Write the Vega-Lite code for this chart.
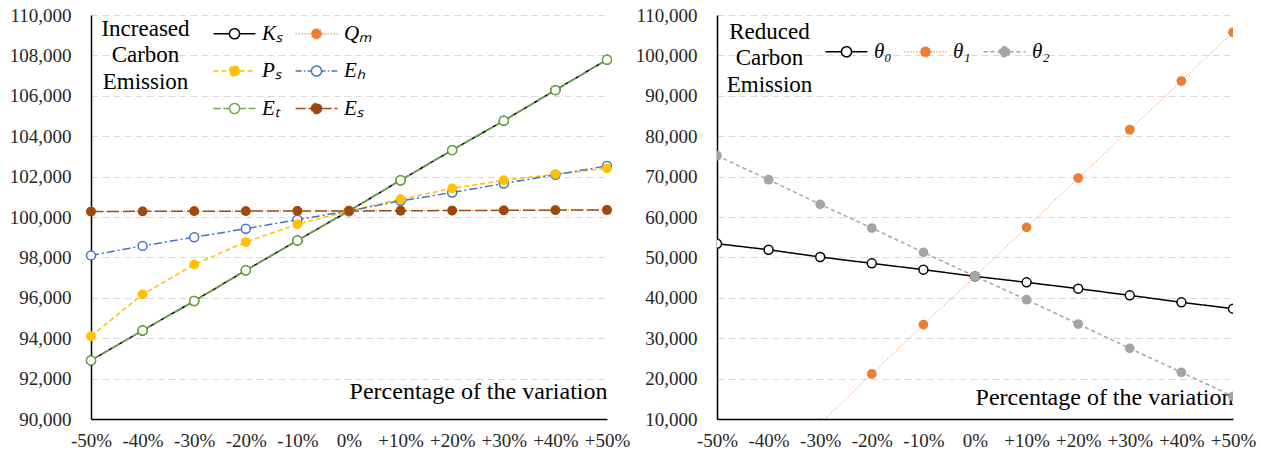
{
  "$schema": "https://vega.github.io/schema/vega-lite/v6.json",
  "background": "white",
  "padding": {"left": 9, "top": 6, "right": 3, "bottom": 3},
  "spacing": 5,
  "datasets": {
    "left": [
      {"pct": -50, "series": "Kₛ", "value": 92900}, {"pct": -40, "series": "Kₛ", "value": 94380}, {"pct": -30, "series": "Kₛ", "value": 95840}, {"pct": -20, "series": "Kₛ", "value": 97360}, {"pct": -10, "series": "Kₛ", "value": 98840}, {"pct": 0, "series": "Kₛ", "value": 100300}, {"pct": 10, "series": "Kₛ", "value": 101820}, {"pct": 20, "series": "Kₛ", "value": 103310}, {"pct": 30, "series": "Kₛ", "value": 104770}, {"pct": 40, "series": "Kₛ", "value": 106280}, {"pct": 50, "series": "Kₛ", "value": 107790},
      {"pct": -50, "series": "Qₘ", "value": 100270}, {"pct": -40, "series": "Qₘ", "value": 100280}, {"pct": -30, "series": "Qₘ", "value": 100290}, {"pct": -20, "series": "Qₘ", "value": 100290}, {"pct": -10, "series": "Qₘ", "value": 100300}, {"pct": 0, "series": "Qₘ", "value": 100300}, {"pct": 10, "series": "Qₘ", "value": 100310}, {"pct": 20, "series": "Qₘ", "value": 100320}, {"pct": 30, "series": "Qₘ", "value": 100330}, {"pct": 40, "series": "Qₘ", "value": 100340}, {"pct": 50, "series": "Qₘ", "value": 100350},
      {"pct": -50, "series": "Pₛ", "value": 94100}, {"pct": -40, "series": "Pₛ", "value": 96170}, {"pct": -30, "series": "Pₛ", "value": 97650}, {"pct": -20, "series": "Pₛ", "value": 98760}, {"pct": -10, "series": "Pₛ", "value": 99640}, {"pct": 0, "series": "Pₛ", "value": 100300}, {"pct": 10, "series": "Pₛ", "value": 100880}, {"pct": 20, "series": "Pₛ", "value": 101420}, {"pct": 30, "series": "Pₛ", "value": 101820}, {"pct": 40, "series": "Pₛ", "value": 102120}, {"pct": 50, "series": "Pₛ", "value": 102410},
      {"pct": -50, "series": "Eₕ", "value": 98100}, {"pct": -40, "series": "Eₕ", "value": 98570}, {"pct": -30, "series": "Eₕ", "value": 99000}, {"pct": -20, "series": "Eₕ", "value": 99420}, {"pct": -10, "series": "Eₕ", "value": 99870}, {"pct": 0, "series": "Eₕ", "value": 100300}, {"pct": 10, "series": "Eₕ", "value": 100800}, {"pct": 20, "series": "Eₕ", "value": 101210}, {"pct": 30, "series": "Eₕ", "value": 101660}, {"pct": 40, "series": "Eₕ", "value": 102090}, {"pct": 50, "series": "Eₕ", "value": 102530},
      {"pct": -50, "series": "Eₜ", "value": 92900}, {"pct": -40, "series": "Eₜ", "value": 94380}, {"pct": -30, "series": "Eₜ", "value": 95840}, {"pct": -20, "series": "Eₜ", "value": 97360}, {"pct": -10, "series": "Eₜ", "value": 98840}, {"pct": 0, "series": "Eₜ", "value": 100300}, {"pct": 10, "series": "Eₜ", "value": 101820}, {"pct": 20, "series": "Eₜ", "value": 103310}, {"pct": 30, "series": "Eₜ", "value": 104770}, {"pct": 40, "series": "Eₜ", "value": 106280}, {"pct": 50, "series": "Eₜ", "value": 107790},
      {"pct": -50, "series": "Eₛ", "value": 100270}, {"pct": -40, "series": "Eₛ", "value": 100280}, {"pct": -30, "series": "Eₛ", "value": 100290}, {"pct": -20, "series": "Eₛ", "value": 100290}, {"pct": -10, "series": "Eₛ", "value": 100300}, {"pct": 0, "series": "Eₛ", "value": 100300}, {"pct": 10, "series": "Eₛ", "value": 100310}, {"pct": 20, "series": "Eₛ", "value": 100320}, {"pct": 30, "series": "Eₛ", "value": 100330}, {"pct": 40, "series": "Eₛ", "value": 100340}, {"pct": 50, "series": "Eₛ", "value": 100350}
    ],
    "right": [
      {"pct": -30, "series": "θ₁", "value": 8900}, {"pct": -20, "series": "θ₁", "value": 21140}, {"pct": -10, "series": "θ₁", "value": 33350}, {"pct": 0, "series": "θ₁", "value": 45310}, {"pct": 10, "series": "θ₁", "value": 57440}, {"pct": 20, "series": "θ₁", "value": 69650}, {"pct": 30, "series": "θ₁", "value": 81610}, {"pct": 40, "series": "θ₁", "value": 93660}, {"pct": 50, "series": "θ₁", "value": 105700},
      {"pct": -50, "series": "θ₀", "value": 53390}, {"pct": -40, "series": "θ₀", "value": 51900}, {"pct": -30, "series": "θ₀", "value": 50100}, {"pct": -20, "series": "θ₀", "value": 48530}, {"pct": -10, "series": "θ₀", "value": 46960}, {"pct": 0, "series": "θ₀", "value": 45310}, {"pct": 10, "series": "θ₀", "value": 43830}, {"pct": 20, "series": "θ₀", "value": 42260}, {"pct": 30, "series": "θ₀", "value": 40610}, {"pct": 40, "series": "θ₀", "value": 38880}, {"pct": 50, "series": "θ₀", "value": 37310},
      {"pct": -50, "series": "θ₂", "value": 75170}, {"pct": -40, "series": "θ₂", "value": 69230}, {"pct": -30, "series": "θ₂", "value": 63130}, {"pct": -20, "series": "θ₂", "value": 57270}, {"pct": -10, "series": "θ₂", "value": 51250}, {"pct": 0, "series": "θ₂", "value": 45310}, {"pct": 10, "series": "θ₂", "value": 39530}, {"pct": 20, "series": "θ₂", "value": 33510}, {"pct": 30, "series": "θ₂", "value": 27490}, {"pct": 40, "series": "θ₂", "value": 21550}, {"pct": 50, "series": "θ₂", "value": 15610}
    ]
  },
  "config": {
    "view": {"stroke": null},
    "font": "Liberation Serif",
    "axis": {
      "labelFont": "Liberation Serif", "titleFont": "Liberation Serif",
      "labelFontSize": 19, "labelColor": "#262626",
      "titleFontWeight": "normal", "titleColor": "#000000",
      "ticks": false, "tickSize": 0,
      "domainColor": "#000000", "domainWidth": 1.5
    },
    "legend": {
      "padding": 0, "title": null,
      "labelFont": "Liberation Serif", "labelFontSize": 21, "labelFontStyle": "italic", "labelColor": "#000000",
      "symbolSize": 1400, "symbolStrokeWidth": 1.5, "rowPadding": 7.5, "labelOffset": 8
    }
  },
  "resolve": {
    "scale": {"x": "independent", "y": "independent", "color": "independent", "strokeDash": "independent"},
    "legend": {"color": "independent"}
  },
  "hconcat": [
    {
      "width": 516, "height": 404,
      "data": {"name": "left"},
      "encoding": {
        "x": {"field": "pct", "type": "quantitative",
          "scale": {"domain": [-50, 50], "nice": false, "zero": false},
          "axis": {"values": [-50, -40, -30, -20, -10, 0, 10, 20, 30, 40, 50], "labelExpr": "(datum.value > 0 ? '+' : '') + datum.value + '%'", "labelOverlap": false, "labelFlush": false, "grid": false, "labelPadding": 12,
            "title": "Percentage of the variation", "titleFontSize": 24, "titleAnchor": "end", "titleY": -21, "titleBaseline": "alphabetic"}},
        "y": {"field": "value", "type": "quantitative",
          "scale": {"domain": [90000, 110000], "nice": false, "zero": false},
          "axis": {"values": [90000, 92000, 94000, 96000, 98000, 100000, 102000, 104000, 106000, 108000, 110000], "format": ",d", "labelPadding": 20,
            "grid": true, "gridColor": "#d9d9d9", "gridDash": [7, 4], "gridWidth": 1,
            "title": ["Increased", "Carbon", "Emission"], "titleAngle": 0, "titleX": 54, "titleY": 20, "titleAlign": "center", "titleBaseline": "alphabetic", "titleFontSize": 23, "titleLineHeight": 26.5}},
        "color": {"field": "series", "type": "nominal", "scale": {"domain": ["Kₛ", "Qₘ", "Pₛ", "Eₕ", "Eₜ", "Eₛ"], "range": ["#000000", "#ED7D31", "#FFC000", "#4472C4", "#70AD47", "#9E480E"]},
          "legend": {"orient": "none", "legendX": 124, "legendY": -1, "columns": 2, "columnPadding": 8, "direction": "horizontal",
            "encode": {"symbols": {"update": {
              "shape": {"signal": "datum.value === 'Eₜ' ? 'M-1.12,0L-0.74,0M-0.6,0L-0.27,0M0.27,0L0.6,0M0.74,0L1.12,0M0.27,0A0.27,0.27,0,1,1,-0.27,0A0.27,0.27,0,1,1,0.27,0Z' : datum.value === 'Eₕ' ? 'M-1.12,0L-0.8,0M-0.68,0L-0.6,0M-0.48,0L-0.27,0M0.27,0L0.48,0M0.6,0L0.68,0M0.8,0L1.12,0M0.27,0A0.27,0.27,0,1,1,-0.27,0A0.27,0.27,0,1,1,0.27,0Z' : 'M-1.12,0L-0.27,0M0.27,0L1.12,0M0.27,0A0.27,0.27,0,1,1,-0.27,0A0.27,0.27,0,1,1,0.27,0Z'"},
              "fillOpacity": {"signal": "indexof(['Kₛ', 'Eₕ', 'Eₜ'], datum.value) >= 0 ? 0 : 1"},
              "strokeDash": {"signal": "datum.value === 'Qₘ' ? [1, 2] : datum.value === 'Pₛ' ? [5, 3] : datum.value === 'Eₛ' ? [10, 3] : [1, 0]"},
              "strokeWidth": {"value": 1.5},
              "opacity": {"value": 1}
            }}}}}
      },
      "layer": [
        {
          "transform": [{"filter": "datum.series === 'Qₘ'"}],
          "mark": {"type": "line", "strokeWidth": 1},
          "encoding": {
            "strokeDash": {"field": "series", "type": "nominal", "scale": {"domain": ["Eₛ", "Eₜ", "Eₕ", "Pₛ", "Qₘ", "Kₛ"], "range": [[12, 4], [9, 3], [8, 3, 2, 3], [5, 3], [1, 2], [1, 0]]}, "legend": null}
          }
        },
        {
          "transform": [{"filter": "datum.series !== 'Qₘ'"}],
          "mark": {"type": "line", "strokeWidth": 1.5},
          "encoding": {
            "strokeDash": {"field": "series", "type": "nominal", "legend": null}
          }
        },
        {
          "transform": [{"filter": "indexof(['Kₛ', 'Eₕ', 'Eₜ'], datum.series) >= 0"}],
          "mark": {"type": "point", "filled": false, "fill": "#ffffff", "size": 80, "strokeWidth": 1.5, "opacity": 1}
        },
        {
          "transform": [{"filter": "indexof(['Kₛ', 'Eₕ', 'Eₜ'], datum.series) < 0"}],
          "mark": {"type": "point", "filled": true, "size": 95, "opacity": 1}
        }
      ]
    },
    {
      "width": 516, "height": 404,
      "data": {"name": "right"},
      "encoding": {
        "x": {"field": "pct", "type": "quantitative",
          "scale": {"domain": [-50, 50], "nice": false, "zero": false},
          "axis": {"values": [-50, -40, -30, -20, -10, 0, 10, 20, 30, 40, 50], "labelExpr": "(datum.value > 0 ? '+' : '') + datum.value + '%'", "labelOverlap": false, "labelFlush": false, "grid": false, "labelPadding": 12,
            "title": "Percentage of the variation", "titleFontSize": 24, "titleAnchor": "end", "titleY": -15, "titleBaseline": "alphabetic"}},
        "y": {"field": "value", "type": "quantitative",
          "scale": {"domain": [10000, 110000], "nice": false, "zero": false},
          "axis": {"values": [10000, 20000, 30000, 40000, 50000, 60000, 70000, 80000, 90000, 100000, 110000], "format": ",d", "labelPadding": 20,
            "grid": true, "gridColor": "#d9d9d9", "gridDash": [7, 4], "gridWidth": 1,
            "title": ["Reduced", "Carbon", "Emission"], "titleAngle": 0, "titleX": 52, "titleY": 23, "titleAlign": "center", "titleBaseline": "alphabetic", "titleFontSize": 23, "titleLineHeight": 26.5}},
        "color": {"field": "series", "type": "nominal", "scale": {"domain": ["θ₀", "θ₁", "θ₂"], "range": ["#000000", "#ED7D31", "#A5A5A5"]},
          "legend": {"orient": "none", "legendX": 110, "legendY": 17, "columns": 3, "columnPadding": 9, "direction": "horizontal",
            "encode": {"symbols": {"update": {
              "shape": {"value": "M-1.12,0L-0.27,0M0.27,0L1.12,0M0.27,0A0.27,0.27,0,1,1,-0.27,0A0.27,0.27,0,1,1,0.27,0Z"},
              "fillOpacity": {"signal": "datum.value === 'θ₀' ? 0 : 1"},
              "strokeDash": {"signal": "datum.value === 'θ₁' ? [1, 2] : datum.value === 'θ₂' ? [4, 3] : [1, 0]"},
              "strokeWidth": {"value": 1.5},
              "opacity": {"value": 1}
            }}}}}
      },
      "layer": [
        {
          "transform": [{"filter": "datum.series === 'θ₁'"}],
          "mark": {"type": "line", "strokeWidth": 1, "clip": true},
          "encoding": {
            "strokeDash": {"field": "series", "type": "nominal", "scale": {"domain": ["θ₂", "θ₁", "θ₀"], "range": [[4, 3], [1, 2], [1, 0]]}, "legend": null}
          }
        },
        {
          "transform": [{"filter": "datum.series !== 'θ₁'"}],
          "mark": {"type": "line", "strokeWidth": 1.5, "clip": true},
          "encoding": {
            "strokeDash": {"field": "series", "type": "nominal", "legend": null}
          }
        },
        {
          "transform": [{"filter": "datum.series === 'θ₀'"}],
          "mark": {"type": "point", "filled": false, "fill": "#ffffff", "size": 80, "strokeWidth": 1.5, "opacity": 1, "clip": true}
        },
        {
          "transform": [{"filter": "datum.series !== 'θ₀'"}],
          "mark": {"type": "point", "filled": true, "size": 95, "opacity": 1, "clip": true}
        }
      ]
    }
  ]
}
